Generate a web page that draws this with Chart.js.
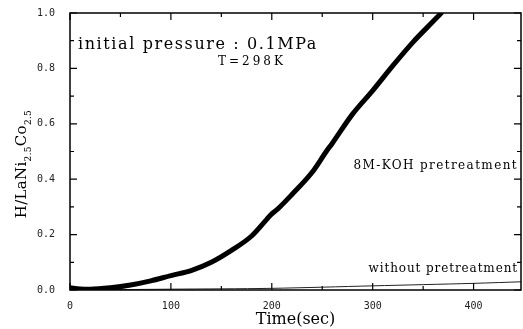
<!DOCTYPE html>
<html>
<head>
<meta charset="utf-8">
<script src="https://cdn.jsdelivr.net/npm/chart.js@4.4.1/dist/chart.umd.min.js"></script>
<style>
  html, body { margin: 0; padding: 0; background: #fff; }
  #wrap { width: 523px; height: 329px; }
</style>
</head>
<body>
<div id="wrap"><canvas id="chart" width="523" height="329"></canvas></div>
<script>
// data
const kohTime = [0, 10, 20, 40, 60, 80, 100, 120, 140, 160, 180, 195, 200, 206, 220, 240, 254, 260, 280, 300, 320, 340, 360, 368];
const kohH    = [0.008, 0.004, 0.003, 0.008, 0.018, 0.033, 0.052, 0.07, 0.1, 0.143, 0.195, 0.255, 0.275, 0.293, 0.345, 0.425, 0.5, 0.53, 0.635, 0.72, 0.81, 0.895, 0.97, 1.0];
const rawTime = [0, 100, 200, 300, 400, 450];
const rawH    = [0.0, 0.003, 0.006, 0.015, 0.024, 0.03];

const xMajor = [0, 100, 200, 300, 400];
const xMinor = [50, 150, 250, 350];
const yMajor = [0, 0.2, 0.4, 0.6, 0.8, 1.0];
const yMinor = [0.1, 0.3, 0.5, 0.7, 0.9];

const serif = "'DejaVu Serif', 'Liberation Serif', serif";
const mono = "'DejaVu Sans Mono', 'Liberation Mono', monospace";

function pts(xs, ys) {
    return xs.map((x, i) => ({ x: x, y: ys[i] }));
}

// frame + inward ticks on all four sides
const frameTicks = {
    id: 'frameTicks',
    afterDatasetsDraw(chart) {
        const { ctx, chartArea: a, scales } = chart;
        ctx.save();
        ctx.strokeStyle = '#000';
        ctx.lineWidth = 1.5;
        ctx.strokeRect(a.left, a.top, a.right - a.left, a.bottom - a.top);
        ctx.lineWidth = 1.2;
        const tickX = (vals, len) => vals.forEach(v => {
            const px = scales.x.getPixelForValue(v);
            ctx.beginPath();
            ctx.moveTo(px, a.bottom); ctx.lineTo(px, a.bottom - len);
            ctx.moveTo(px, a.top); ctx.lineTo(px, a.top + len);
            ctx.stroke();
        });
        const tickY = (vals, len) => vals.forEach(v => {
            const py = scales.y.getPixelForValue(v);
            ctx.beginPath();
            ctx.moveTo(a.left, py); ctx.lineTo(a.left + len, py);
            ctx.moveTo(a.right, py); ctx.lineTo(a.right - len, py);
            ctx.stroke();
        });
        tickX(xMajor, 7); tickX(xMinor, 4);
        tickY(yMajor, 7); tickY(yMinor, 4);
        ctx.restore();
    }
};

// annotations and the y-axis title with subscripts
const labels = {
    id: 'labels',
    afterDraw(chart) {
        const { ctx, chartArea: a } = chart;
        ctx.save();
        ctx.fillStyle = '#000';
        ctx.textBaseline = 'alphabetic';

        ctx.font = '16px ' + serif;
        ctx.letterSpacing = '1.6px';
        ctx.textAlign = 'left';
        ctx.fillText('initial pressure : 0.1MPa', 78, 49);
        ctx.font = '12px ' + serif;
        ctx.letterSpacing = '3px';
        ctx.fillText('T=298K', 218, 65);

        ctx.font = '12px ' + serif;
        ctx.letterSpacing = '1.4px';
        ctx.textAlign = 'right';
        ctx.fillText('8M-KOH pretreatment', a.right - 3, 169);
        ctx.letterSpacing = '0.9px';
        ctx.fillText('without pretreatment', a.right - 3, 272);

        // y title: H/LaNi2.5Co2.5
        ctx.letterSpacing = '0.3px';
        ctx.translate(26, 164);
        ctx.rotate(-Math.PI / 2);
        const parts = [['H/LaNi', false], ['2.5', true], ['Co', false], ['2.5', true]];
        ctx.textAlign = 'left';
        let w = 0;
        parts.forEach(p => {
            ctx.font = (p[1] ? '9px ' : '15px ') + serif;
            w += ctx.measureText(p[0]).width;
        });
        let x = -w / 2;
        parts.forEach(p => {
            ctx.font = (p[1] ? '9px ' : '15px ') + serif;
            ctx.fillText(p[0], x, p[1] ? 5 : 0);
            x += ctx.measureText(p[0]).width;
        });
        ctx.restore();
    }
};

new Chart(document.getElementById('chart'), {
    type: 'scatter',
    data: {
        datasets: [
            {
                label: '8M-KOH pretreatment',
                data: pts(kohTime, kohH),
                showLine: true,
                borderColor: '#000',
                borderWidth: 5,
                pointRadius: 0,
                cubicInterpolationMode: 'monotone',
                borderCapStyle: 'round'
            },
            {
                label: 'without pretreatment',
                data: pts(rawTime, rawH),
                showLine: true,
                borderColor: '#222',
                borderWidth: 1,
                pointRadius: 0,
                tension: 0.3
            }
        ]
    },
    options: {
        responsive: false,
        animation: false,
        layout: { padding: { top: 11, right: 2, left: 0, bottom: 0 } },
        plugins: { legend: { display: false }, tooltip: { enabled: false } },
        scales: {
            x: {
                type: 'linear',
                min: 0, max: 447,
                grid: { display: false },
                border: { display: false },
                afterFit: s => { s.height = 39; },
                afterBuildTicks: s => { s.ticks = xMajor.map(v => ({ value: v })); },
                ticks: { color: '#222', font: { family: mono, size: 10 }, padding: 2, maxRotation: 0 },
                title: { display: true, text: 'Time(sec)', color: '#000', font: { family: serif, size: 16 }, padding: { top: 3, bottom: 0 } }
            },
            y: {
                min: 0, max: 1.0,
                grid: { display: false },
                border: { display: false },
                afterFit: s => { s.width = 70; },
                afterBuildTicks: s => { s.ticks = yMajor.map(v => ({ value: v })); },
                ticks: { color: '#222', font: { family: mono, size: 10 }, padding: 7, callback: v => v.toFixed(1) }
            }
        }
    },
    plugins: [frameTicks, labels]
});
</script>
</body>
</html>
